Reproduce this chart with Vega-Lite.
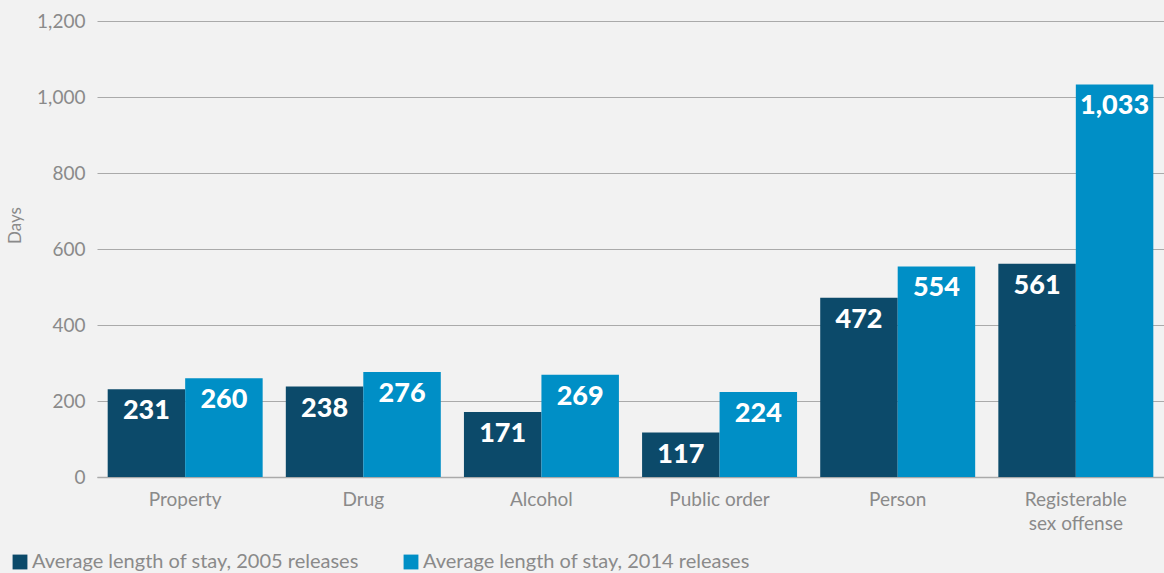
{
  "$schema": "https://vega.github.io/schema/vega-lite/v6.json",
  "width": 1067,
  "height": 456,
  "autosize": {"type": "none"},
  "padding": {"left": 97, "top": 21, "right": 0, "bottom": 96},
  "background": "#f2f2f2",
  "config": {
    "view": {"stroke": null},
    "font": "Lato",
    "axis": {"labelFont": "Lato", "titleFont": "Lato", "labelColor": "#8a8a8a", "titleColor": "#8a8a8a"}
  },
  "data": {
    "values": [
      {"offense": "Property", "series": "Average length of stay, 2005 releases", "days": 231},
      {"offense": "Property", "series": "Average length of stay, 2014 releases", "days": 260},
      {"offense": "Drug", "series": "Average length of stay, 2005 releases", "days": 238},
      {"offense": "Drug", "series": "Average length of stay, 2014 releases", "days": 276},
      {"offense": "Alcohol", "series": "Average length of stay, 2005 releases", "days": 171},
      {"offense": "Alcohol", "series": "Average length of stay, 2014 releases", "days": 269},
      {"offense": "Public order", "series": "Average length of stay, 2005 releases", "days": 117},
      {"offense": "Public order", "series": "Average length of stay, 2014 releases", "days": 224},
      {"offense": "Person", "series": "Average length of stay, 2005 releases", "days": 472},
      {"offense": "Person", "series": "Average length of stay, 2014 releases", "days": 554},
      {"offense": "Registerable sex offense", "series": "Average length of stay, 2005 releases", "days": 561},
      {"offense": "Registerable sex offense", "series": "Average length of stay, 2014 releases", "days": 1033}
    ]
  },
  "encoding": {
    "x": {
      "field": "offense", "type": "nominal", "sort": null,
      "scale": {"paddingInner": 0.13, "paddingOuter": 0.06},
      "axis": {
        "title": null, "labelAngle": 0, "labelFontSize": 19, "labelPadding": 13,
        "ticks": false, "domainColor": "#aaaaaa", "domainWidth": 1.5,
        "labelExpr": "datum.label == 'Registerable sex offense' ? ['Registerable', 'sex offense'] : datum.label",
        "labelLineHeight": 24
      }
    },
    "xOffset": {"field": "series", "type": "nominal", "scale": {"paddingInner": 0}},
    "y": {
      "field": "days", "type": "quantitative",
      "scale": {"domain": [0, 1200]},
      "axis": {
        "title": "Days", "titleFontSize": 17, "titleFontWeight": "normal", "titlePadding": 12, "titleY": 204,
        "values": [0, 200, 400, 600, 800, 1000, 1200], "format": ",d",
        "labelFontSize": 19, "labelPadding": 12, "ticks": false, "domain": false,
        "gridColor": "#aaaaaa", "gridWidth": 1.2
      }
    }
  },
  "layer": [
    {
      "mark": {"type": "bar"},
      "encoding": {
        "color": {
          "field": "series", "type": "nominal",
          "scale": {"range": ["#0c4a6a", "#008fc6"]},
          "legend": {
            "title": null, "orient": "none", "direction": "horizontal",
            "legendX": -87, "legendY": 531,
            "symbolType": "square", "symbolSize": 220, "symbolStrokeWidth": 0,
            "labelFontSize": 20, "labelColor": "#8a8a8a", "labelLimit": 400,
            "columnPadding": 42, "symbolOffset": 0, "labelOffset": 2
          }
        }
      }
    },
    {
      "mark": {"type": "text", "color": "white", "fontWeight": 900, "fontSize": 27, "baseline": "middle", "dy": 22},
      "encoding": {
        "text": {"field": "days", "type": "quantitative", "format": ",d"}
      }
    }
  ]
}
